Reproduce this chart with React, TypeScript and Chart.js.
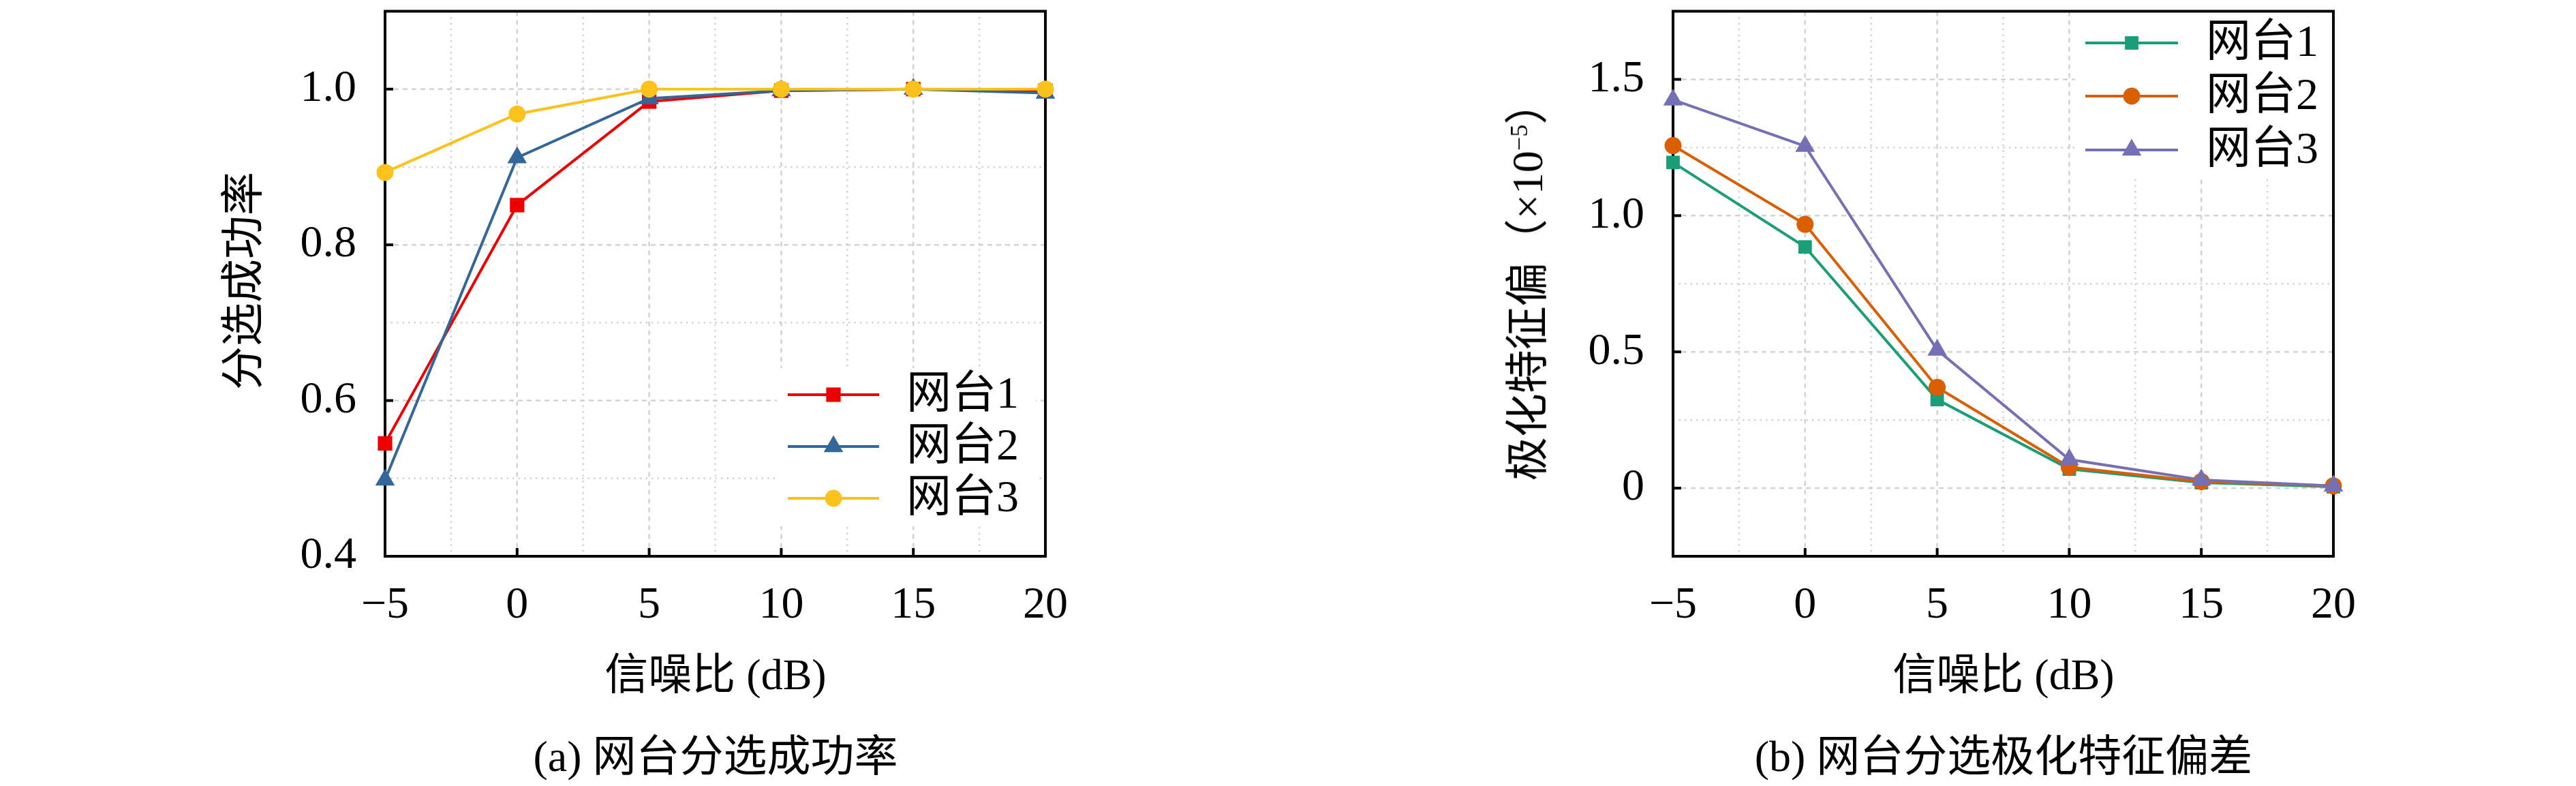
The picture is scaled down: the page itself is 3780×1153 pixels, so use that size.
import React, { useEffect, useRef } from 'react';
import { Chart, registerables } from 'chart.js';

Chart.register(...registerables);

// ---------------- data ----------------
const snr = [-5, 0, 5, 10, 15, 20];
const seriesNames = ['网台1', '网台2', '网台3'];

const successRate1 = [0.545, 0.851, 0.984, 0.998, 1.0, 0.998];
const successRate2 = [0.498, 0.912, 0.988, 0.998, 1.0, 0.995];
const successRate3 = [0.893, 0.968, 1.0, 1.0, 1.0, 1.0];

const polarBias1 = [1.195, 0.885, 0.325, 0.07, 0.02, 0.005];
const polarBias2 = [1.257, 0.968, 0.37, 0.077, 0.024, 0.008];
const polarBias3 = [1.425, 1.255, 0.507, 0.105, 0.03, 0.008];

const xTicks = [-5, 0, 5, 10, 15, 20];
const xMinorTicks = [-2.5, 2.5, 7.5, 12.5, 17.5];
const yTicksA = [0.4, 0.6, 0.8, 1.0];
const yMinorA = [0.5, 0.7, 0.9];
const yTicksB = [0, 0.5, 1.0, 1.5];
const yMinorB = [0.25, 0.75, 1.25];

const xTitle = '信噪比 (dB)';
const yTitleA = '分选成功率';
const captionA = '(a) 网台分选成功率';
const captionB = '(b) 网台分选极化特征偏差';

// ---------------- styles ----------------
const FONT = '"Liberation Serif", "DejaVu Serif", "Noto Sans CJK SC", serif';
const FS = 66;
const W = 1890;
const H = 1153;

const fmtX = (v: number) => (v < 0 ? '\u2212' + Math.abs(v) : String(v));

function drawMarker(ctx: CanvasRenderingContext2D, style: string, x: number, y: number, r: number, color: string) {
  ctx.fillStyle = color;
  ctx.beginPath();
  if (style === 'rect') {
    const s = r * Math.SQRT1_2;
    ctx.rect(x - s, y - s, 2 * s, 2 * s);
  } else if (style === 'circle') {
    ctx.arc(x, y, r, 0, Math.PI * 2);
  } else {
    const a = (2 * Math.PI) / 3;
    ctx.moveTo(x, y - r);
    ctx.lineTo(x + r * Math.sin(a), y - r * Math.cos(a));
    ctx.lineTo(x + r * Math.sin(2 * a), y - r * Math.cos(2 * a));
    ctx.closePath();
  }
  ctx.fill();
}

const framePlugin = {
  id: 'frame',
  beforeDatasetsDraw(chart: any, _args: any, opts: any) {
    const { ctx, chartArea: a, scales } = chart;
    const x = scales.x;
    const y = scales.y;
    ctx.save();
    const line = (x0: number, y0: number, x1: number, y1: number) => {
      ctx.beginPath();
      ctx.moveTo(x0, y0);
      ctx.lineTo(x1, y1);
      ctx.stroke();
    };
    ctx.strokeStyle = '#d2d2d2';
    ctx.lineWidth = 2.5;
    // minor (dotted)
    ctx.setLineDash([2.5, 6]);
    opts.xMinor.forEach((v: number) => {
      const p = x.getPixelForValue(v);
      line(p, a.top, p, a.bottom);
    });
    opts.yMinor.forEach((v: number) => {
      const p = y.getPixelForValue(v);
      line(a.left, p, a.right, p);
    });
    // major (dashed)
    ctx.setLineDash([7, 6]);
    opts.xMajor.forEach((v: number) => {
      const p = x.getPixelForValue(v);
      if (Math.abs(p - a.left) > 2 && Math.abs(p - a.right) > 2) line(p, a.top, p, a.bottom);
    });
    opts.yMajor.forEach((v: number) => {
      const p = y.getPixelForValue(v);
      if (Math.abs(p - a.top) > 2 && Math.abs(p - a.bottom) > 2) line(a.left, p, a.right, p);
    });
    ctx.setLineDash([]);
    // legend box (white) covering grid
    const lg = opts.legend;
    ctx.fillStyle = '#ffffff';
    ctx.fillRect(lg.box[0], lg.box[1], lg.box[2], lg.box[3]);
    // frame + inward ticks
    ctx.strokeStyle = '#000';
    ctx.lineWidth = 4;
    ctx.strokeRect(a.left, a.top, a.right - a.left, a.bottom - a.top);
    opts.xMajor.forEach((v: number) => {
      const p = x.getPixelForValue(v);
      line(p, a.bottom, p, a.bottom - 12);
    });
    opts.yMajor.forEach((v: number) => {
      const p = y.getPixelForValue(v);
      line(a.left, p, a.left + 12, p);
    });
    ctx.restore();
  },
  afterDatasetsDraw(chart: any, _args: any, opts: any) {
    const { ctx } = chart;
    const lg = opts.legend;
    ctx.save();
    chart.data.datasets.forEach((ds: any, i: number) => {
      const yy = lg.ys[i];
      ctx.strokeStyle = ds.borderColor;
      ctx.lineWidth = 4;
      ctx.beginPath();
      ctx.moveTo(lg.x0, yy);
      ctx.lineTo(lg.x1, yy);
      ctx.stroke();
      drawMarker(ctx, ds.pointStyle, (lg.x0 + lg.x1) / 2, yy, ds.pointRadius, ds.borderColor);
      ctx.fillStyle = '#000';
      ctx.font = `${FS}px ${FONT}`;
      ctx.textAlign = 'left';
      ctx.textBaseline = 'middle';
      ctx.fillText(ds.label, lg.textX, yy + 2);
    });
    ctx.restore();
  },
};

type Series = { name: string; values: number[]; color: string; marker: string; radius: number };

function makeConfig(series: Series[], yMin: number, yMax: number, yTicks: number[], yMinor: number[], yFmt: (v: number) => string, legend: any) {
  return {
    type: 'line',
    data: {
      datasets: series.map((s, i) => ({
        label: s.name,
        data: snr.map((xv, j) => ({ x: xv, y: s.values[j] })),
        borderColor: s.color,
        backgroundColor: s.color,
        borderWidth: 4,
        pointStyle: s.marker,
        pointRadius: s.radius,
        pointHoverRadius: s.radius,
        pointBorderWidth: 0,
        pointBackgroundColor: s.color,
        pointBorderColor: s.color,
        order: series.length - i,
        clip: false,
        tension: 0,
        fill: false,
      })),
    },
    options: {
      responsive: false,
      animation: false,
      events: [],
      devicePixelRatio: 1,
      layout: { padding: { left: 0, top: 9, right: 356, bottom: 0 } },
      plugins: {
        legend: { display: false },
        tooltip: { enabled: false },
        frame: { xMajor: xTicks, xMinor: xMinorTicks, yMajor: yTicks, yMinor, legend },
      },
      scales: {
        x: {
          type: 'linear',
          min: -5,
          max: 20,
          afterBuildTicks: (s: any) => {
            s.ticks = xTicks.map((v) => ({ value: v }));
          },
          afterFit: (s: any) => {
            s.height = 337;
            s.paddingLeft = 0;
            s.paddingRight = 0;
          },
          grid: { display: false, drawTicks: false },
          border: { display: false },
          ticks: {
            color: '#000',
            padding: 33,
            maxRotation: 0,
            autoSkip: false,
            font: { family: FONT, size: FS, lineHeight: 1.2 },
            callback: (v: number) => fmtX(v),
          },
        },
        y: {
          type: 'linear',
          min: yMin,
          max: yMax,
          afterBuildTicks: (s: any) => {
            s.ticks = yTicks.map((v) => ({ value: v }));
          },
          afterFit: (s: any) => {
            s.width = 565;
            s.paddingTop = 0;
            s.paddingBottom = 0;
          },
          grid: { display: false, drawTicks: false },
          border: { display: false },
          ticks: {
            color: '#000',
            padding: 42,
            autoSkip: false,
            font: { family: FONT, size: FS, lineHeight: 1.2 },
            callback: (v: number) => yFmt(v),
          },
        },
      },
    },
    plugins: [framePlugin],
  };
}

const seriesA: Series[] = [
  { name: seriesNames[0], values: successRate1, color: '#ee0000', marker: 'rect', radius: 15 },
  { name: seriesNames[1], values: successRate2, color: '#336699', marker: 'triangle', radius: 16.5 },
  { name: seriesNames[2], values: successRate3, color: '#fcc21b', marker: 'circle', radius: 12.5 },
];
const seriesB: Series[] = [
  { name: seriesNames[0], values: polarBias1, color: '#1b9e77', marker: 'rect', radius: 14 },
  { name: seriesNames[1], values: polarBias2, color: '#d95f02', marker: 'circle', radius: 12.5 },
  { name: seriesNames[2], values: polarBias3, color: '#7570b3', marker: 'triangle', radius: 16.5 },
];

const legendA = { ys: [579, 655, 731], x0: 1156, x1: 1290, textX: 1330, box: [1140, 540, 380, 232] };
const legendB = { ys: [63, 141, 220], x0: 1170, x1: 1306, textX: 1347, box: [1155, 18, 378, 244] };

function ChartCanvas({ config, left }: { config: any; left: number }) {
  const ref = useRef<HTMLCanvasElement | null>(null);
  useEffect(() => {
    if (!ref.current) return;
    const chart = new Chart(ref.current, config);
    return () => chart.destroy();
  }, [config]);
  return (
    <canvas
      ref={ref}
      width={W}
      height={H}
      style={{ position: 'absolute', left, top: 0, width: W, height: H }}
    />
  );
}

const textStyle: React.CSSProperties = {
  position: 'absolute',
  fontFamily: FONT,
  fontSize: 64,
  color: '#000',
  whiteSpace: 'nowrap',
  lineHeight: 1,
};

function Label({ x, y, rotate, children }: { x: number; y: number; rotate?: boolean; children: React.ReactNode }) {
  return (
    <div
      style={{
        ...textStyle,
        left: x,
        top: y,
        transform: `translate(-50%, -50%)${rotate ? ' rotate(-90deg)' : ''}`,
      }}
    >
      {children}
    </div>
  );
}

const configA = makeConfig(seriesA, 0.4, 1.1, yTicksA, yMinorA, (v) => v.toFixed(1), legendA);
const configB = makeConfig(seriesB, -0.25, 1.75, yTicksB, yMinorB, (v) => (v === 0 ? '0' : v.toFixed(1)), legendB);

export default function App() {
  return (
    <div style={{ position: 'absolute', left: 0, top: 0, width: 3780, height: 1153, background: '#fff', overflow: 'hidden' }}>
      <ChartCanvas config={configA} left={0} />
      <ChartCanvas config={configB} left={W} />
      <Label x={357} y={412} rotate>{yTitleA}</Label>
      <Label x={1050} y={990}>{xTitle}</Label>
      <Label x={1050} y={1110}>{captionA}</Label>
      <Label x={2242} y={412} rotate>
        极化特征偏（×10<sup style={{ fontSize: 36, verticalAlign: 'super' }}>−5</sup>）
      </Label>
      <Label x={2940} y={990}>{xTitle}</Label>
      <Label x={2940} y={1110}>{captionB}</Label>
    </div>
  );
}
